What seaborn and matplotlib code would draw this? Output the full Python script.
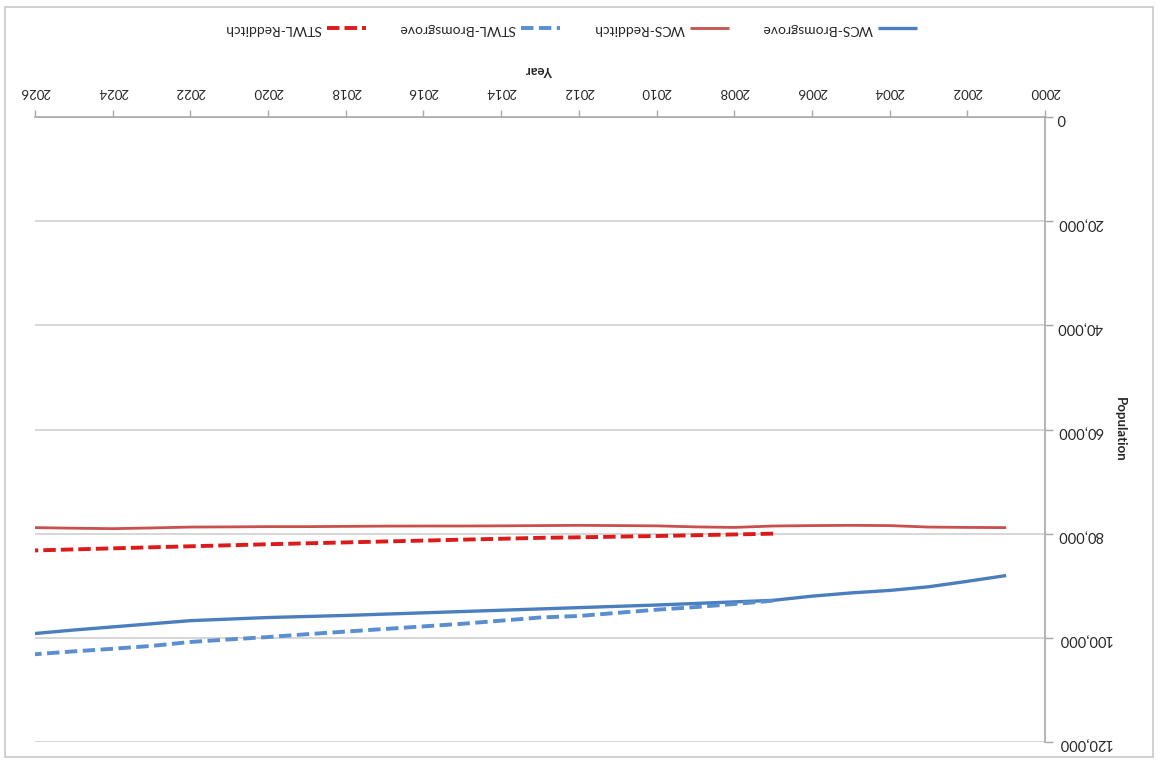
import numpy as np
import pandas as pd
import matplotlib
matplotlib.use("Agg")
import matplotlib.pyplot as plt
import seaborn as sns
from matplotlib.patches import Rectangle
from matplotlib.ticker import FuncFormatter

years_wcs = list(range(2001, 2027))
years_stwl = list(range(2007, 2027))

wcs_bromsgrove = [88040, 89150, 90200, 90900, 91380, 92000, 92800, 93100, 93400, 93700,
                  93950, 94200, 94450, 94700, 94950, 95200, 95450, 95700, 95900, 96100,
                  96400, 96700, 97300, 97900, 98500, 99170]
wcs_redditch = [78840, 78800, 78730, 78450, 78400, 78450, 78530, 78800, 78700, 78500,
                78450, 78400, 78450, 78500, 78530, 78530, 78550, 78600, 78650, 78650,
                78700, 78730, 78900, 79040, 78950, 78840]
stwl_bromsgrove = [92870, 93500, 94100, 94600, 95200, 95800, 96100, 96700, 97300, 97800,
                   98300, 98800, 99300, 99850, 100300, 100800, 101550, 102100, 102600, 103150]
stwl_redditch = [80000, 80150, 80300, 80450, 80570, 80700, 80800, 80980, 81150, 81330,
                 81500, 81680, 81850, 82030, 82230, 82420, 82620, 82820, 83020, 83220]

series_names = ["WCS-Bromsgrove", "WCS-Redditch", "STWL-Bromsgrove", "STWL-Redditch"]
x_ticks = list(range(2000, 2027, 2))
y_ticks = [0, 20000, 40000, 60000, 80000, 100000, 120000]

df = pd.concat([
    pd.DataFrame({"Year": years_wcs, "Population": wcs_bromsgrove, "Series": series_names[0]}),
    pd.DataFrame({"Year": years_wcs, "Population": wcs_redditch, "Series": series_names[1]}),
    pd.DataFrame({"Year": years_stwl, "Population": stwl_bromsgrove, "Series": series_names[2]}),
    pd.DataFrame({"Year": years_stwl, "Population": stwl_redditch, "Series": series_names[3]}),
], ignore_index=True)

sns.set_style("white")
plt.rcParams["font.family"] = ["Lato", "DejaVu Sans"]

W, H = 1160, 763
fig = plt.figure(figsize=(W / 100, H / 100), dpi=100)
ax = fig.add_axes([35 / W, 1 - 742 / H, (1045 - 35) / W, (742 - 117) / H])

palette = {"WCS-Bromsgrove": "#4a7ebf", "WCS-Redditch": "#c8504d",
           "STWL-Bromsgrove": "#5a8ed0", "STWL-Redditch": "#dd1a1a"}
dashes = {"WCS-Bromsgrove": "", "WCS-Redditch": "",
          "STWL-Bromsgrove": (3.2, 1.4), "STWL-Redditch": (3.2, 1.3)}
sns.lineplot(data=df, x="Year", y="Population", hue="Series", style="Series",
             hue_order=series_names, style_order=series_names,
             palette=palette, dashes=dashes, legend=False, ax=ax)
for line, lw in zip(ax.lines, [2.4, 2.0, 2.8, 2.8]):
    line.set_linewidth(lw)
    line.set_solid_capstyle("butt")
    line.set_dash_capstyle("butt")

# whole chart is turned upside down
ax.set_xlim(2026, 2000)
ax.set_ylim(120000, 0)
ax.set_xticks(x_ticks)
ax.set_yticks(y_ticks)
ax.yaxis.set_major_formatter(FuncFormatter(lambda v, p: f"{v:,.0f}"))
ax.xaxis.tick_top()
ax.xaxis.set_label_position("top")
ax.yaxis.tick_right()
ax.yaxis.set_label_position("right")

ax.grid(False)
ax.yaxis.grid(True, color="#cfcfcf", linewidth=1.2)
for s in ["left", "bottom"]:
    ax.spines[s].set_visible(False)
for s in ["top", "right"]:
    ax.spines[s].set_color("#a8a8a8")
    ax.spines[s].set_linewidth(1.2)

ax.tick_params(axis="x", length=5, width=1, color="#a8a8a8", labelsize=9.5,
               labelrotation=180, pad=9, top=True, bottom=False)
ax.tick_params(axis="y", length=6, width=1, color="#a8a8a8", labelsize=10.5,
               labelrotation=180, pad=3, right=True, left=False)
ax.set_xlabel("Year", fontsize=9.5, fontweight="bold", rotation=180, labelpad=8)
ax.set_ylabel("Population", fontsize=9.5, fontweight="bold", rotation=270, labelpad=10)

leg = fig.legend(handles=ax.lines[::-1], labels=series_names[::-1],
                 loc="center", bbox_to_anchor=(571 / W, 1 - 29 / H), ncol=4,
                 frameon=False, markerfirst=False, handlelength=2.8,
                 columnspacing=2.4, handletextpad=0.4, fontsize=10)
for t in leg.get_texts():
    t.set_rotation(180)

fig.patches.append(Rectangle((5 / W, 1 - 757 / H), (1153 - 5) / W, (757 - 7) / H,
                             transform=fig.transFigure, fill=False,
                             edgecolor="#c8c8c8", linewidth=1.2))

fig.savefig("out.png", dpi=100)
